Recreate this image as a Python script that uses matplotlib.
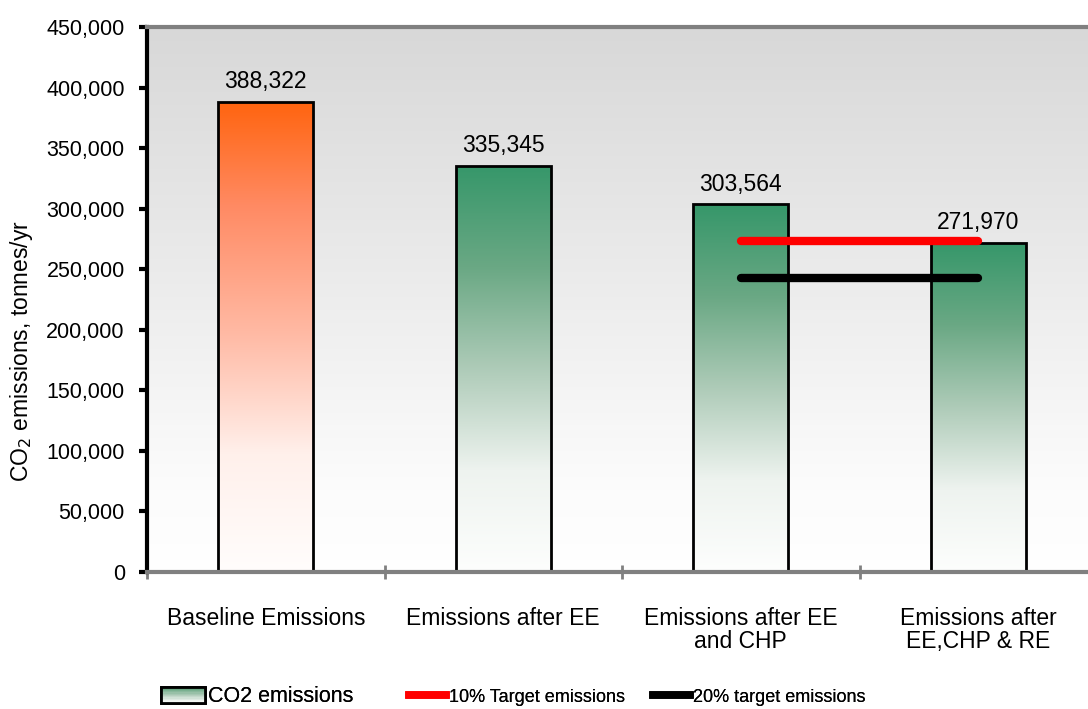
import numpy as np
import matplotlib
matplotlib.use("Agg")
import matplotlib.pyplot as plt
from matplotlib import font_manager
from matplotlib.colors import LinearSegmentedColormap
from matplotlib.legend_handler import HandlerBase
from matplotlib.patches import Rectangle, Patch
from matplotlib.lines import Line2D
from matplotlib.ticker import FuncFormatter, FixedLocator

categories = ["Baseline Emissions", "Emissions after EE",
              "Emissions after EE\nand CHP", "Emissions after\nEE,CHP & RE"]
emissions = [388322, 335345, 303564, 271970]
target_10 = [273300, 273300]
target_20 = [242700, 242700]
target_span = [2, 3]

plt.rcParams['font.family'] = ['Liberation Sans', 'DejaVu Sans']
plt.rcParams['font.size'] = 15.5

installed = {f.name for f in font_manager.fontManager.ttflist}
narrow = 'Liberation Sans Narrow' if 'Liberation Sans Narrow' in installed else None

orange_cmap = LinearSegmentedColormap.from_list(
    "orange", [(0, "#fffdfc"), (0.25, "#fff0eb"), (0.5, "#ffbba6"), (0.78, "#ff8a63"), (1, "#ff640f")])
green_cmap = LinearSegmentedColormap.from_list(
    "green", [(0, "#fdfefd"), (0.25, "#eef3ef"), (0.5, "#aecbb8"), (0.75, "#6aa884"), (1, "#36976a")])
bg_cmap = LinearSegmentedColormap.from_list(
    "bg", [(0, "#ffffff"), (0.15, "#fcfcfc"), (1, "#d8d8d8")])


class GradientHandler(HandlerBase):
    # legend key drawn as a stack of thin strips, dark at the top
    def create_artists(self, legend, orig_handle, xdescent, ydescent,
                       width, height, fontsize, trans):
        n = 12
        artists = []
        for i in range(n):
            c = green_cmap(0.2 + 0.6 * i / (n - 1))
            artists.append(Rectangle((-xdescent, -ydescent + height * i / n), width, height / n,
                                     facecolor=c, edgecolor='none', transform=trans))
        artists.append(Rectangle((-xdescent, -ydescent), width, height, facecolor='none',
                                 edgecolor='black', lw=2, transform=trans))
        return artists


fig = plt.figure(figsize=(10.88, 7.09), dpi=100)
ax = fig.add_axes([147 / 1088, 1 - 572 / 709, (1088 - 147) / 1088, (572 - 27) / 709])

ax.set_xlim(-0.5, 3.462)
ax.set_ylim(0, 450000)

# background gradient
grad = np.linspace(0, 1, 256).reshape(-1, 1)
ax.imshow(grad, cmap=bg_cmap, aspect='auto', origin='lower', extent=[0, 1, 0, 1],
          transform=ax.transAxes, zorder=0)

x = np.arange(len(categories))
width = 0.40
bars = ax.bar(x, emissions, width, facecolor='none', edgecolor='black', lw=2, zorder=3)
for i, rect in enumerate(bars):
    cmap = orange_cmap if i == 0 else green_cmap
    im = ax.imshow(grad, cmap=cmap, aspect='auto', origin='lower',
                   extent=[rect.get_x(), rect.get_x() + rect.get_width(), 0, rect.get_height()],
                   zorder=2)
    im.set_clip_path(rect)
    ax.text(rect.get_x() + rect.get_width() / 2, rect.get_height() + 7000,
            f"{emissions[i]:,}", ha='center', va='bottom', fontsize=16.5, zorder=5)

ax.plot(target_span, target_10, color='#ff0000', lw=6, solid_capstyle='round', zorder=4)
ax.plot(target_span, target_20, color='black', lw=6, solid_capstyle='round', zorder=4)

ax.set_xticks(x, categories, linespacing=1.0)
ax.xaxis.set_minor_locator(FixedLocator(np.arange(-0.5, 4, 1)))
ax.tick_params(axis='x', which='major', length=0, pad=25, labelsize=16.5)
ax.tick_params(axis='x', which='minor', direction='inout', length=10, width=2, color='#808080')
ax.yaxis.set_major_locator(FixedLocator(np.arange(0, 450001, 50000)))
ax.yaxis.set_major_formatter(FuncFormatter(lambda v, p: f"{int(v):,}"))
ax.tick_params(axis='y', direction='out', length=6, width=3, labelsize=15.5, pad=10)
ax.set_ylabel("CO$_2$ emissions, tonnes/yr", fontsize=16.5)
ax.yaxis.set_label_coords(-0.119, 0.405)

for side in ['top', 'bottom']:
    ax.spines[side].set_color('#808080')
    ax.spines[side].set_linewidth(3)
ax.spines['left'].set_color('black')
ax.spines['left'].set_linewidth(3)
ax.spines['right'].set_visible(False)
ax.spines['bottom'].set_zorder(6)

# one legend per entry so each key sits where it should along the bottom
legend_entries = [
    (Patch(label="CO2 emissions"), 161, 2.05, None, 15.5),
    (Line2D([], [], color='#ff0000', lw=5.5, label="10% Target emissions"), 409, 1.7, narrow, 15.5 if narrow else 13),
    (Line2D([], [], color='black', lw=5.5, label="20% target emissions"), 653, 1.7, narrow, 15.5 if narrow else 13),
]
for handle, x0, hl, fam, fs in legend_entries:
    prop = {'size': fs}
    if fam:
        prop['family'] = fam
    leg = fig.legend(handles=[handle], loc='center left', bbox_to_anchor=(x0 / 1088, 1 - 697 / 709),
                     frameon=False, prop=prop, handlelength=hl * 15.5 / fs, handletextpad=0.15 * 15.5 / fs,
                     borderaxespad=0, borderpad=0, handler_map={Patch: GradientHandler()})
    fig.add_artist(leg)

fig.savefig("out.png", dpi=100)
